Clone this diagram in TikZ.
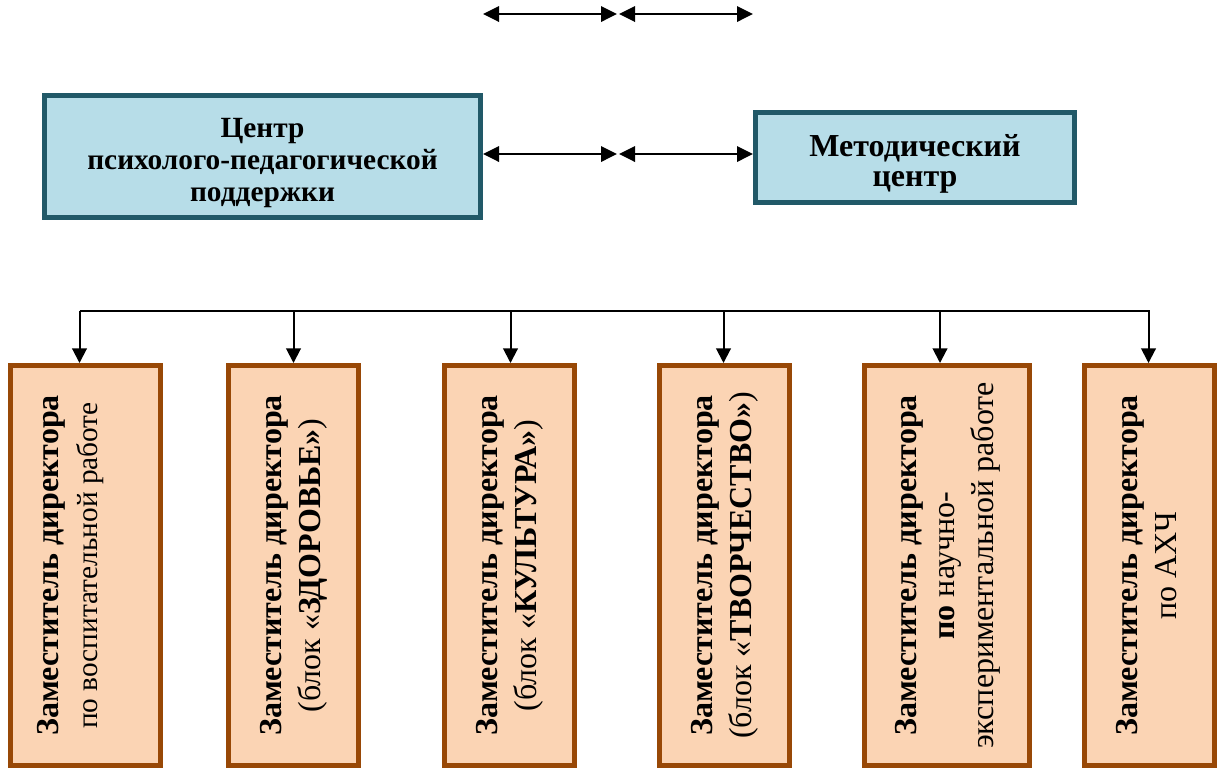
\documentclass[tikz,border=0pt]{standalone}
\usepackage{fontspec}
\setmainfont{Liberation Serif}
\usepackage{graphicx}
\usetikzlibrary{arrows.meta}
\usetikzlibrary{calc}
\definecolor{centrefill}{RGB}{183,221,232}
\definecolor{centreline}{RGB}{33,89,104}
\definecolor{deputyfill}{RGB}{251,212,180}
\definecolor{deputyline}{RGB}{152,72,6}
\newdimen\pxu \pxu=0.75pt
\tikzset{
	centrebox/.style={draw=centreline,fill=centrefill,line width=3.75pt,align=center,
		font=\fontsize{22}{24}\selectfont\bfseries},
	deputybox/.style={draw=deputyline,fill=deputyfill,line width=3.75pt,
		minimum height=400*\pxu,inner sep=0pt,font=\fontsize{24}{29}\selectfont},
	dblarr/.style={{Triangle[length=12pt,width=11.5pt]}-{Triangle[length=12pt,width=11.5pt]},line width=1.8pt},
	downarr/.style={-{Triangle[length=11pt,width=11pt]},line width=1.5pt},
}
\newcommand\deputy[2]{\rotatebox{90}{\begin{tabular}{@{}c@{}}\textbf{#1}\\#2\end{tabular}}}

\begin{document}
\begin{tikzpicture}[x=0.75pt,y=-0.75pt]
	\useasboundingbox (0,0) rectangle (1219,769);
	
	% CENTRES
	\node[centrebox,minimum width=436*\pxu,minimum height=122*\pxu] (psy) at (262.5,156.5)
	{\rule{0pt}{24pt}Центр\\психолого-педагогической\\поддержки};
	\node[centrebox,minimum width=319*\pxu,minimum height=90*\pxu,font=\fontsize{24}{23}\selectfont\bfseries] (met) at (915,157.5)
	{\rule{0pt}{26pt}Методический\\центр};
	
	% ARROWS (TOP)
	\coordinate (topA) at (483,14);
	\coordinate (topB) at (617,14);
	\coordinate (topC) at (619,14);
	\coordinate (topD) at (753,14);
	\draw[dblarr] (topA) -- (topB);
	\draw[dblarr] (topC) -- (topD);
	\coordinate (midB) at (617,154);
	\coordinate (midC) at (619,154);
	\draw[dblarr] (psy.east |- midB) -- (midB);
	\draw[dblarr] (midC) -- (met.west |- midC);
	
	% DEPUTIES
	\node[deputybox,minimum width=150*\pxu] (d1) at (85.5,565.5)
	{\deputy{Заместитель директора}{\fontsize{22}{29}\selectfont по воспитательной работе}\hspace*{30\pxu}};
	\node[deputybox,minimum width=130*\pxu] (d2) at (293.5,565.5)
	{\deputy{Заместитель директора}{(блок «\textbf{ЗДОРОВЬЕ»})}};
	\node[deputybox,minimum width=130*\pxu] (d3) at (509.5,565.5)
	{\deputy{Заместитель директора}{(блок «\textbf{КУЛЬТУРА»})}};
	\node[deputybox,minimum width=130*\pxu] (d4) at (724.5,565.5)
	{\deputy{Заместитель директора}{(блок «\textbf{ТВОРЧЕСТВО»})}};
	\node[deputybox,minimum width=165*\pxu] (d5) at (947,565.5)
	{\deputy{Заместитель директора}{\textbf{по} научно-\\экспериментальной работе}};
	\node[deputybox,minimum width=130*\pxu] (d6) at (1149.5,565.5)
	{\deputy{Заместитель директора}{по АХЧ}};
	
	% BUS
	\coordinate (bus) at (0,311);
	\draw[line width=1.5pt] ($(d1.north |- bus)+(-6,0)$) -- (d6.north |- bus);
	\foreach \i/\dx in {1/-6,2/0,3/1,4/-1,5/-7,6/-1}
	\draw[downarr] ($(d\i.north |- bus)+(\dx,0)$) -- ($(d\i.north)+(\dx,0)$);
	
\end{tikzpicture}
\end{document}
